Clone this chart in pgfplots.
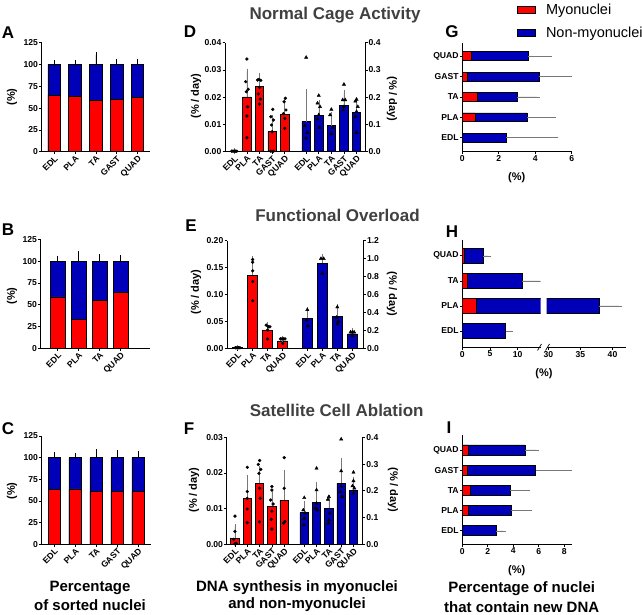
\documentclass[border=0pt]{standalone}
\usepackage{pgfplots}
\pgfplotsset{compat=1.18}
\usepackage{fontspec}
\setmainfont{Liberation Sans}
\definecolor{myred}{RGB}{255,0,0}
\definecolor{myblue}{RGB}{0,0,185}
\definecolor{titlegray}{RGB}{64,64,64}
\definecolor{errgray}{RGB}{120,120,120}
\pgfplotsset{
  base/.style={scale only axis, axis line style={-, line width=0.8pt},
    every tick/.style={black, line width=0.7pt}, tick align=outside, major tick length=2.5pt,
    tick label style={font=\bfseries\fontsize{8.6}{9}\selectfont, inner sep=1pt},
    /pgf/number format/assume math mode=true, scaled ticks=false, clip=false},
  vpanel/.style={base, axis lines*=left, xticklabel style={rotate=45, anchor=north east, inner sep=0.5pt}},
  hpanel/.style={base, axis lines*=left},
  vb/.style={ybar, bar width=#1, bar shift=0pt, draw=black, line width=0.7pt},
  hb/.style={xbar, bar width=#1, bar shift=0pt, draw=black, line width=0.7pt},
  errY/.style={/pgfplots/error bars/y dir=plus, /pgfplots/error bars/y explicit,
    /pgfplots/error bars/error bar style={line width=0.5pt, #1},
    /pgfplots/error bars/error mark options={mark size=2.8pt, line width=0.5pt, #1}},
  errX/.style={/pgfplots/error bars/x dir=plus, /pgfplots/error bars/x explicit,
    /pgfplots/error bars/error bar style={line width=0.5pt, #1},
    /pgfplots/error bars/error mark options={mark size=3pt, line width=0.5pt, #1}},
  dots/.style={only marks, mark=*, mark size=1.45pt, black},
  tris/.style={only marks, mark=triangle*, mark size=1.9pt, black},
}
\newcommand{\lab}{\bfseries\fontsize{11}{12}\selectfont}
\newcommand{\letter}{\bfseries\fontsize{17}{17}\selectfont}
\newcommand{\ttl}{\bfseries\fontsize{17}{17}\selectfont\color{titlegray}}
\newcommand{\capt}{\bfseries\fontsize{15}{16}\selectfont}
\begin{document}
\begin{tikzpicture}[x=1pt,y=1pt]
\path[use as bounding box] (0,0) rectangle (642,614);

% ---------------- Panel A ----------------
\begin{axis}[vpanel, at={(41.7pt,462.3pt)}, anchor=south west, width=108.3pt, height=109pt,
  xmin=0.4, xmax=5.6, ymin=0, ymax=125, ytick={0,25,50,75,100,125},
  xtick={1,2,3,4,5}, xticklabels={EDL,PLA,TA,GAST,QUAD}]
\addplot[vb=12.5pt, fill=myblue, errY=black] coordinates {(1,100)+-(0,1.5) (2,100)+-(0,2) (3,100)+-(0,11) (4,100)+-(0,3.5) (5,100)+-(0,3.5)};
\addplot[vb=12.5pt, fill=myred] coordinates {(1,65) (2,63.5) (3,58.5) (4,60) (5,62.5)};
\end{axis}

% ---------------- Panel B ----------------
\begin{axis}[vpanel, at={(40.7pt,265.7pt)}, anchor=south west, width=109.3pt, height=109pt,
  xmin=0.19, xmax=5.4, ymin=0, ymax=125, ytick={0,25,50,75,100,125},
  xtick={1,2,3,4}, xticklabels={EDL,PLA,TA,QUAD}]
\addplot[vb=15pt, fill=myblue, errY=black] coordinates {(1,100)+-(0,3) (2,100)+-(0,8) (3,100)+-(0,4.5) (4,100)+-(0,3.5)};
\addplot[vb=15pt, fill=myred] coordinates {(1,59) (2,33) (3,54.5) (4,64)};
\end{axis}

% ---------------- Panel C ----------------
\begin{axis}[vpanel, at={(41.7pt,69.7pt)}, anchor=south west, width=109pt, height=108.3pt,
  xmin=0.4, xmax=5.6, ymin=0, ymax=125, ytick={0,25,50,75,100,125},
  xtick={1,2,3,4,5}, xticklabels={EDL,PLA,TA,GAST,QUAD}]
\addplot[vb=12.5pt, fill=myblue, errY=black] coordinates {(1,100)+-(0,3.5) (2,100)+-(0,2) (3,100)+-(0,6.5) (4,100)+-(0,5.5) (5,100)+-(0,5)};
\addplot[vb=12.5pt, fill=myred] coordinates {(1,63) (2,64) (3,61.5) (4,61) (5,61.5)};
\end{axis}

% ---------------- Panel D ----------------
\begin{axis}[vpanel, at={(225pt,462.3pt)}, anchor=south west, width=140pt, height=109pt,
  xmin=-0.74, xmax=10.37, ymin=0, ymax=0.04, ytick={0,0.01,0.02,0.03,0.04},
  yticklabels={0.00,0.01,0.02,0.03,0.04},
  xtick={0,1,2,3,4,5.7,6.7,7.7,8.7,9.7}, xticklabels={EDL,PLA,TA,GAST,QUAD,EDL,PLA,TA,GAST,QUAD}]
\addplot[vb=8.5pt, fill=myred, errY=errgray] coordinates {(0,0.0002)+-(0,0) (1,0.0201)+-(0,0.0094) (2,0.024)+-(0,0.0038) (3,0.0075)+-(0,0.0051) (4,0.0137)+-(0,0.0045)};
\addplot[dots] coordinates {(-0.2,0.0002) (-0.1,0.0002) (0,0.0002) (0.1,0.0002) (0.2,0.0002)
 (1,0.034) (0.9,0.0257) (1.1,0.0229) (0.95,0.022) (1.05,0.0165) (1,0.0131) (1,0.0051)
 (1.85,0.0263) (1.95,0.0265) (2.1,0.0262) (2,0.0236) (1.9,0.0212) (2.05,0.0193) (2,0.0175)
 (3.05,0.0155) (2.9,0.0128) (3.1,0.0116) (2.95,0.0098) (3,0.0073) (2.9,0.0002) (3.1,0.0002)
 (4.05,0.0196) (3.95,0.0183) (4.1,0.0153) (3.9,0.014) (4,0.0122) (4,0.0086)};
\end{axis}
\begin{axis}[base, at={(225pt,462.3pt)}, anchor=south west, width=140pt, height=109pt,
  axis y line*=right, axis x line=none,
  xmin=-0.74, xmax=10.37, ymin=0, ymax=0.4, ytick={0,0.1,0.2,0.3,0.4},
  yticklabels={0.0,0.1,0.2,0.3,0.4}]
\addplot[vb=8.5pt, fill=myblue, errY=errgray] coordinates {(5.7,0.11)+-(0,0.109) (6.7,0.133)+-(0,0.047) (7.7,0.095)+-(0,0.04) (8.7,0.171)+-(0,0.044) (9.7,0.145)+-(0,0.04)};
\addplot[tris] coordinates {(5.7,0.346) (5.6,0.095) (5.8,0.07) (5.7,0.05)
 (6.7,0.206) (6.6,0.178) (6.8,0.165) (6.7,0.135) (6.6,0.12) (6.75,0.088)
 (7.7,0.155) (7.6,0.135) (7.8,0.088) (7.7,0.065)
 (8.7,0.247) (8.6,0.19) (8.8,0.19) (8.7,0.165) (8.65,0.153)
 (9.7,0.192) (9.6,0.185) (9.8,0.165) (9.7,0.147) (9.6,0.128) (9.7,0.07)};
\end{axis}

% ---------------- Panel E ----------------
\begin{axis}[vpanel, at={(227pt,265.7pt)}, anchor=south west, width=136.3pt, height=107.6pt,
  xmin=-0.71, xmax=8.37, ymin=0, ymax=0.2, ytick={0,0.05,0.1,0.15,0.2},
  yticklabels={0.00,0.05,0.10,0.15,0.20},
  xtick={0,1,2,3,4.64,5.64,6.64,7.64}, xticklabels={EDL,PLA,TA,QUAD,EDL,PLA,TA,QUAD}]
\addplot[vb=10pt, fill=myred, errY=errgray] coordinates {(0,0.001)+-(0,0.0005) (1,0.136)+-(0,0.031) (2,0.033)+-(0,0.0116) (3,0.0136)+-(0,0.004)};
\addplot[dots] coordinates {(-0.15,0.001) (-0.05,0.001) (0.05,0.001) (0.15,0.001)
 (1,0.165) (1,0.16) (1,0.144) (1,0.124) (1,0.0885)
 (1.9,0.043) (2.05,0.04) (2.15,0.04) (2,0.034) (2,0.0173)
 (2.85,0.0175) (2.95,0.0175) (3.05,0.0175) (3.15,0.0175) (3,0.009)};
\end{axis}
\begin{axis}[base, at={(227pt,265.7pt)}, anchor=south west, width=136.3pt, height=107.6pt,
  axis y line*=right, axis x line=none,
  xmin=-0.71, xmax=8.37, ymin=0, ymax=1.2, ytick={0,0.2,0.4,0.6,0.8,1.0,1.2},
  yticklabels={0.0,0.2,0.4,0.6,0.8,1.0,1.2}]
\addplot[vb=10pt, fill=myblue, errY=errgray] coordinates {(4.64,0.334)+-(0,0.093) (5.64,0.948)+-(0,0.072) (6.64,0.36)+-(0,0.104) (7.64,0.16)+-(0,0.036)};
\addplot[tris] coordinates {(4.64,0.43) (4.6,0.315) (4.68,0.25)
 (5.55,1.0) (5.73,1.0) (5.64,0.836)
 (6.64,0.46) (6.6,0.345) (6.7,0.3) (6.64,0.27)
 (7.52,0.18) (7.64,0.18) (7.76,0.18) (7.64,0.137)};
\end{axis}

% ---------------- Panel F ----------------
\begin{axis}[vpanel, at={(226.7pt,69.7pt)}, anchor=south west, width=136pt, height=107pt,
  xmin=-0.67, xmax=10.38, ymin=0, ymax=0.03, ytick={0,0.01,0.02,0.03},
  yticklabels={0.00,0.01,0.02,0.03},
  xtick={0,1,2,3,4,5.63,6.63,7.63,8.63,9.63}, xticklabels={EDL,PLA,TA,GAST,QUAD,EDL,PLA,TA,GAST,QUAD}]
\addplot[vb=8.5pt, fill=myred, errY=errgray] coordinates {(0,0.0017)+-(0,0.0033) (1,0.0129)+-(0,0.0058) (2,0.0171)+-(0,0.0042) (3,0.0107)+-(0,0.0041) (4,0.0124)+-(0,0.0077)};
\addplot[dots] coordinates {(0,0.0079) (0,0.0036) (-0.1,0.0014) (0.1,0.0003) (0,0.0001)
 (1,0.0216) (1,0.0148) (1,0.0129) (1,0.0099) (1,0.0061)
 (2,0.0235) (1.9,0.0224) (2.1,0.021) (1.95,0.0199) (2,0.0157) (2.05,0.0129) (2,0.0063)
 (3,0.0162) (3,0.0152) (2.9,0.0124) (3.1,0.0113) (3,0.0093) (2.95,0.007) (3,0.0043)
 (4,0.0243) (4,0.0157) (4.05,0.0064) (3.95,0.0059)};
\end{axis}
\begin{axis}[base, at={(226.7pt,69.7pt)}, anchor=south west, width=136pt, height=107pt,
  axis y line*=right, axis x line=none,
  xmin=-0.67, xmax=10.38, ymin=0, ymax=0.4, ytick={0,0.1,0.2,0.3,0.4},
  yticklabels={0.0,0.1,0.2,0.3,0.4}]
\addplot[vb=8.5pt, fill=myblue, errY=errgray] coordinates {(5.63,0.118)+-(0,0.035) (6.63,0.156)+-(0,0.068) (7.63,0.135)+-(0,0.037) (8.63,0.228)+-(0,0.084) (9.63,0.203)+-(0,0.04)};
\addplot[tris] coordinates {(5.63,0.174) (5.55,0.128) (5.7,0.116) (5.63,0.097) (5.6,0.072)
 (6.63,0.284) (6.63,0.203) (6.63,0.153) (6.55,0.135) (6.7,0.128)
 (7.63,0.178) (7.55,0.168) (7.7,0.116) (7.63,0.091) (7.6,0.079)
 (8.63,0.393) (8.63,0.274) (8.63,0.216) (8.55,0.197) (8.7,0.178)
 (9.63,0.269) (9.63,0.237) (9.55,0.218) (9.7,0.21) (9.63,0.191)};
\end{axis}

% ---------------- Panel G ----------------
\begin{axis}[hpanel, at={(462.3pt,462.3pt)}, anchor=south west, width=109.4pt, height=109pt,
  xmin=0, xmax=6, ymin=0.31, ymax=5.66, xtick={0,2,4,6},
  ytick={1,2,3,4,5}, yticklabels={EDL,PLA,TA,GAST,QUAD},
  legend image code/.code={\draw[#1] (0pt,-3.5pt) rectangle (18pt,3.5pt);},
  legend style={at={(0.5,1.373)}, anchor=north west, draw=none, fill=none,
    font=\fontsize{14.5}{14.5}\selectfont, row sep=7pt, inner sep=0pt, nodes={inner sep=2pt}},
  legend cell align=left]
\addlegendimage{fill=myred, draw=black, line width=0.8pt}
\addlegendentry{\hspace{8pt}Myonuclei}
\addlegendimage{fill=myblue, draw=black, line width=0.8pt}
\addlegendentry{\hspace{8pt}Non-myonuclei}
\addplot[hb=8.7pt, fill=myblue, forget plot, errX=errgray] coordinates {(2.4,1)+-(2.7,0) (3.55,2)+-(1.4,0) (3.0,3)+-(1.1,0) (4.2,4)+-(1.65,0) (3.62,5)+-(1.13,0)};
\addplot[hb=8.7pt, fill=myred, forget plot] coordinates {(0.7,2) (0.85,3) (0.25,4) (0.5,5)};
\end{axis}

% ---------------- Panel H (broken axis) ----------------
\begin{axis}[hpanel, clip=true, at={(462.3pt,266.7pt)}, anchor=south west, width=78.4pt, height=107.3pt,
  xmin=0, xmax=14.15, ymin=0.35, ymax=4.63, xtick={0,5,10},
  ytick={1,2,3,4}, yticklabels={EDL,PLA,TA,QUAD}]
\addplot[hb=15pt, fill=myblue, errX=errgray] coordinates {(7.8,1)+-(0.8,0) (37.9,2)+-(0,0) (10.8,3)+-(3.2,0) (3.8,4)+-(0.9,0)};
\addplot[hb=15pt, fill=myred] coordinates {(2.6,2) (1.0,3) (0.4,4)};
\end{axis}
\begin{axis}[base, clip=true, at={(546.7pt,266.7pt)}, anchor=south west, width=79.3pt, height=107.3pt,
  axis x line*=bottom, axis y line=none,
  xmin=29.75, xmax=42.1, ymin=0.35, ymax=4.63, xtick={30,35,40}, ytick=\empty]
\addplot[hb=15pt, fill=myblue, errX=errgray] coordinates {(37.9,2)+-(3.1,0)};
\end{axis}
\draw[line width=0.7pt] (537.5,263.5) -- (541.5,270);
\draw[line width=0.7pt] (545.5,263.5) -- (549.5,270);

% ---------------- Panel I ----------------
\begin{axis}[hpanel, at={(462.3pt,69.7pt)}, anchor=south west, width=109.4pt, height=109.3pt,
  xmin=0, xmax=8.58, ymin=0.33, ymax=5.74, xtick={0,2,4,6,8},
  ytick={1,2,3,4,5}, yticklabels={EDL,PLA,TA,GAST,QUAD}]
\addplot[hb=10pt, fill=myblue, errX=errgray] coordinates {(2.65,1)+-(0.55,0) (3.85,2)+-(1.35,0) (3.75,3)+-(1.35,0) (5.75,4)+-(2.65,0) (4.95,5)+-(0.8,0)};
\addplot[hb=10pt, fill=myred] coordinates {(0.45,2) (0.65,3) (0.4,4) (0.45,5)};
\end{axis}

% ---------------- Text ----------------
\node[font=\letter] at (8,581) {A};
\node[font=\letter] at (8,384) {B};
\node[font=\letter] at (8,185) {C};
\node[font=\letter] at (190,582) {D};
\node[font=\letter] at (191,388) {E};
\node[font=\letter] at (189,185) {F};
\node[font=\letter] at (452,582) {G};
\node[font=\letter] at (452,382) {H};
\node[font=\letter] at (449,186) {I};

\node at (335,599) {\ttl Normal Cage Activity};
\node at (337.5,399) {\ttl Functional Overload};
\node at (336.7,204) {\ttl Satellite Cell Ablation};

\node[rotate=90, font=\lab] at (12,517) {(\%)};
\node[rotate=90, font=\lab] at (12,318) {(\%)};
\node[rotate=90, font=\lab] at (12,123) {(\%)};
\node[rotate=90, font=\lab] at (196,518) {(\% / day)};
\node[rotate=-90, font=\lab] at (392,515) {(\% / day)};
\node[rotate=90, font=\lab] at (196,322) {(\% / day)};
\node[rotate=-90, font=\lab] at (392,320) {(\% / day)};
\node[rotate=90, font=\lab] at (194,124) {(\% / day)};
\node[rotate=-90, font=\lab] at (393,124) {(\% / day)};
\node[font=\lab] at (516.7,436) {(\%)};
\node[font=\lab] at (544,240.7) {(\%)};
\node[font=\lab] at (516.7,43) {(\%)};

\node[font=\capt] at (90,26) {Percentage};
\node[font=\capt] at (90,9) {of sorted nuclei};
\node[font=\capt] at (297,26) {DNA synthesis in myonuclei};
\node[font=\capt] at (297,9) {and non-myonuclei};
\node[font=\capt] at (521.7,25) {Percentage of nuclei};
\node[font=\capt] at (521.7,7.3) {that contain new DNA};
\end{tikzpicture}
\end{document}
